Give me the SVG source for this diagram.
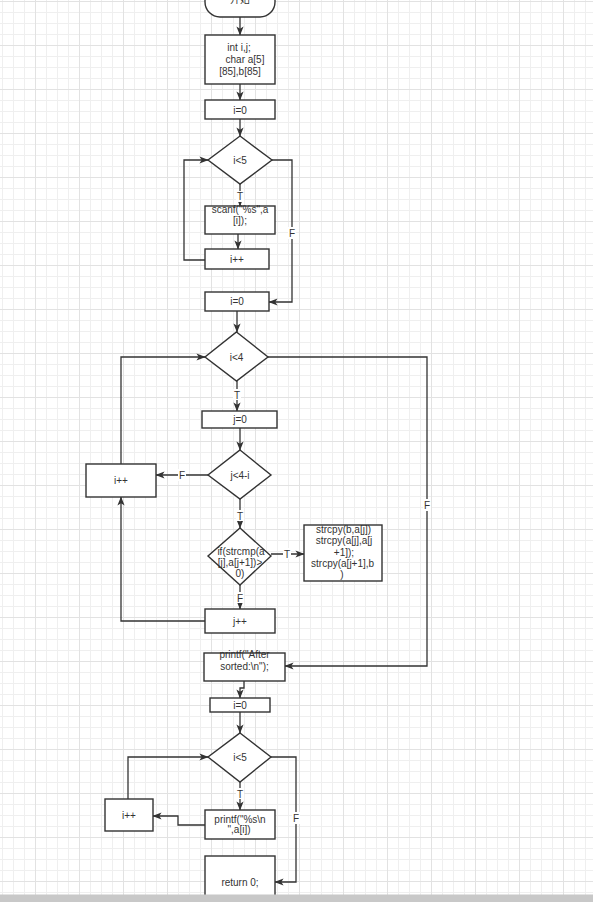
<svg xmlns="http://www.w3.org/2000/svg" width="593" height="902" viewBox="0 0 593 902">
<defs>
<pattern id="minor" x="2" y="1" width="11" height="11" patternUnits="userSpaceOnUse">
<rect x="0" y="0" width="11" height="1" fill="#efefef"/>
<rect x="0" y="0" width="1" height="11" fill="#efefef"/>
</pattern>
<pattern id="major" x="35" y="1" width="44" height="44" patternUnits="userSpaceOnUse">
<rect x="0" y="0" width="44" height="1" fill="#e2e2e2"/>
<rect x="0" y="0" width="1" height="44" fill="#e2e2e2"/>
</pattern>
<marker id="arr" viewBox="0 0 10 8" refX="9.5" refY="4" markerWidth="9" markerHeight="7.5" markerUnits="userSpaceOnUse" orient="auto">
<path d="M0,0 L10,4 L0,8 L2.5,4 z" fill="#333"/>
</marker>
<style>
.n{fill:#fff;stroke:#333;stroke-width:1.4}
.t{font-family:"Liberation Sans",Arial,sans-serif;font-size:10px;fill:#333;text-anchor:middle}
.c{fill:none;stroke:#333;stroke-width:1.3}
.a{marker-end:url(#arr)}
.lb{fill:#fff}
</style>
</defs>
<rect width="593" height="902" fill="#fff"/>
<rect width="593" height="902" fill="url(#minor)"/>
<rect width="593" height="902" fill="url(#major)"/>

<g id="connectors">
<path class="c a" d="M240,17 V35"/>
<path class="c a" d="M240,84 V100"/>
<path class="c a" d="M240,119 V136"/>
<path class="c a" d="M240,184 V206"/>
<path class="c a" d="M238,234 V249"/>
<path class="c a" d="M205,260 H184 V160 H208"/>
<path class="c a" d="M272,160 H292 V302 H269"/>
<path class="c a" d="M237,311 V332"/>
<path class="c a" d="M237,381 V411"/>
<path class="c a" d="M268,357 H427 V666 H285"/>
<path class="c a" d="M240,428 V450"/>
<path class="c a" d="M208,475 H156"/>
<path class="c a" d="M121,464 V357 H205"/>
<path class="c a" d="M240,499 V528"/>
<path class="c a" d="M271,554 H304"/>
<path class="c a" d="M240,585 V609"/>
<path class="c a" d="M205,621 H121 V497"/>
<path class="c a" d="M244,681 V688 H240 V698"/>
<path class="c a" d="M240,712 V733"/>
<path class="c a" d="M128,799 V757 H208"/>
<path class="c a" d="M240,782 V810"/>
<path class="c a" d="M205,825 H178 V816 H153"/>
<path class="c a" d="M271,757 H296 V882 H275"/>
<g id="labels">
<rect class="lb" x="236" y="191" width="8" height="11"/><text class="t" x="240" y="200">T</text>
<rect class="lb" x="288" y="227" width="8" height="12"/><text class="t" x="292" y="236.5">F</text>
<rect class="lb" x="233" y="389" width="8" height="11"/><text class="t" x="237" y="398.5">T</text>
<rect class="lb" x="423" y="499" width="8" height="12"/><text class="t" x="427" y="508.5">F</text>
<rect class="lb" x="178" y="469" width="8" height="12"/><text class="t" x="182" y="478.5">F</text>
<rect class="lb" x="236" y="510" width="8" height="11"/><text class="t" x="240" y="519.5">T</text>
<rect class="lb" x="283" y="548" width="8" height="11"/><text class="t" x="287" y="557.5">T</text>
<rect class="lb" x="236" y="592" width="8" height="11"/><text class="t" x="240" y="601.5">F</text>
<rect class="lb" x="236" y="788" width="8" height="11"/><text class="t" x="240" y="797.5">T</text>
<rect class="lb" x="292" y="812" width="8" height="12"/><text class="t" x="296" y="821.5">F</text>
</g>
</g>

<g id="start"><rect class="n" x="205" y="-17" width="70" height="34" rx="15"/><text class="t" x="240" y="3" style="font-family:'Liberation Sans','Noto Sans CJK SC',sans-serif">开始</text></g>
<g id="decl"><rect class="n" x="205" y="35" width="70" height="49"/>
<text class="t" x="239" y="51">int i,j;</text><text class="t" x="245" y="63">char a[5]</text><text class="t" x="240" y="75">[85],b[85]</text></g>
<g id="init1"><rect class="n" x="205" y="100" width="70" height="19"/><text class="t" x="240" y="113.5">i=0</text></g>
<g id="cond1"><polygon class="n" points="240,136 272,160 240,184 208,160"/><text class="t" x="240" y="163.5">i&lt;5</text></g>
<g id="scanf"><rect class="n" x="205" y="206" width="70" height="28"/><text class="t" x="240" y="213">scanf("%s",a</text><text class="t" x="240" y="224">[i]);</text></g>
<g id="inc1"><rect class="n" x="205" y="249" width="64" height="20"/><text class="t" x="237" y="262.5">i++</text></g>
<g id="init2"><rect class="n" x="205" y="292" width="64" height="19"/><text class="t" x="237" y="305">i=0</text></g>
<g id="cond2"><polygon class="n" points="236.5,332 268,357 236.5,381 205,357"/><text class="t" x="236.5" y="360.5">i&lt;4</text></g>
<g id="initj"><rect class="n" x="202" y="411" width="75" height="17"/><text class="t" x="240" y="423">j=0</text></g>
<g id="cond3"><polygon class="n" points="240,450 271,475 240,499 208,475"/><text class="t" x="240" y="478.5">j&lt;4-i</text></g>
<g id="inc2"><rect class="n" x="86" y="464" width="70" height="33"/><text class="t" x="121" y="484">i++</text></g>
<g id="cond4"><polygon class="n" points="240,528 271,556 240,585 208,556"/>
<text class="t" x="241" y="554.5">if(strcmp(a</text><text class="t" x="240" y="566">[j],a[j+1])&gt;</text><text class="t" x="240" y="576.5">0)</text></g>
<g id="swap"><rect class="n" x="304" y="525" width="78" height="56"/>
<text class="t" x="343.5" y="533">strcpy(b,a[j])</text><text class="t" x="344" y="544.3">strcpy(a[j],a[j</text><text class="t" x="344" y="555.6">+1]);</text><text class="t" x="342.6" y="566.9">strcpy(a[j+1],b</text><text class="t" x="342" y="578.2">)</text></g>
<g id="incj"><rect class="n" x="205" y="609" width="70" height="24"/><text class="t" x="240" y="624.5">j++</text></g>
<g id="print1"><rect class="n" x="204" y="653" width="81" height="28"/><text class="t" x="244.5" y="658">printf("After</text><text class="t" x="244.5" y="669.5">sorted:\n");</text></g>
<g id="init3"><rect class="n" x="210" y="698" width="60" height="14"/><text class="t" x="240" y="708.5">i=0</text></g>
<g id="cond5"><polygon class="n" points="240,733 271,757 240,782 208,757"/><text class="t" x="240" y="760.5">i&lt;5</text></g>
<g id="inc3"><rect class="n" x="105" y="799" width="48" height="32"/><text class="t" x="129" y="819">i++</text></g>
<g id="print2"><rect class="n" x="205" y="810" width="70" height="29"/><text class="t" x="240" y="823">printf("%s\n</text><text class="t" x="239" y="833">",a[i])</text></g>
<g id="ret"><rect class="n" x="205" y="856" width="70" height="50"/><text class="t" x="240" y="885.5">return 0;</text></g>
<rect x="0" y="894.5" width="593" height="7.5" fill="#c8c8c8"/>
</svg>
